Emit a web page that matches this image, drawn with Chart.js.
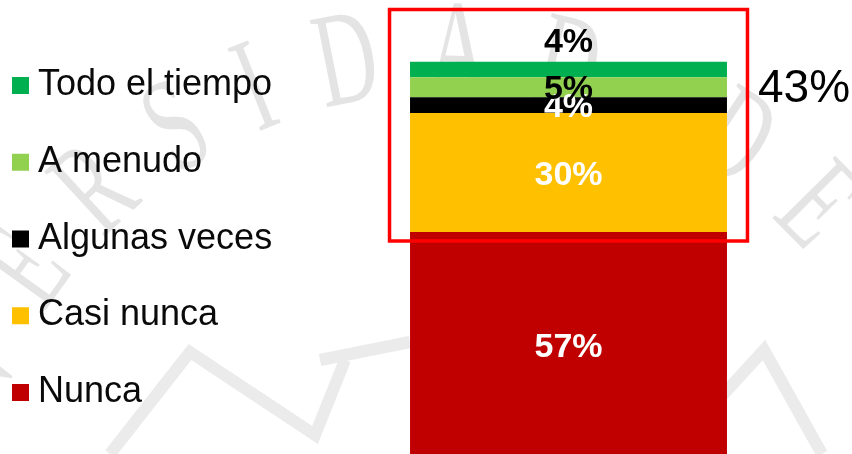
<!DOCTYPE html>
<html>
<head>
<meta charset="utf-8">
<script src="https://cdn.jsdelivr.net/npm/chart.js@4.4.1/dist/chart.umd.min.js"></script>
<style>
  html, body { margin: 0; padding: 0; width: 852px; height: 454px; overflow: hidden; background: #fff; }
  #caja { position: relative; width: 852px; height: 458px; }
</style>
</head>
<body>
<div id="caja"><canvas id="grafico"></canvas></div>
<script>
// respuestas, de abajo hacia arriba en la barra
const categorias = ['Nunca', 'Casi nunca', 'Algunas veces', 'A menudo', 'Todo el tiempo'];
const porcentajes = [57, 30, 4, 5, 4];
const colores = ['#C00000', '#FFC000', '#000000', '#92D050', '#00B050'];
const coloresTexto = ['#ffffff', '#ffffff', '#ffffff', '#000000', '#000000'];
// segmentos que entran en el recuadro rojo
const grupoDesde = 1;

const FUENTE = '"Liberation Sans", Arial, sans-serif';

// sello de fondo (marca de agua)
const sello = {
  id: 'sello',
  beforeDraw(chart) {
    const ctx = chart.ctx;
    ctx.save();
    ctx.fillStyle = '#ffffff';
    ctx.fillRect(0, 0, chart.width, chart.height);

    const cx = 448, cy = 572, r = 515, sx = 0.62, espacio = 50;
    const texto = 'UNIVERSIDAD DE';
    ctx.fillStyle = '#e4e4e4';
    ctx.font = '135px "Liberation Serif", serif';
    ctx.textAlign = 'center';
    ctx.textBaseline = 'middle';
    const letras = [...texto];
    const centros = [];
    let s = 0;
    letras.forEach(c => {
      const w = ctx.measureText(c).width * sx;
      centros.push(s + w / 2);
      s += w + espacio;
    });
    const desfase = (-144.2 * Math.PI / 180) * r - centros[4];
    letras.forEach((c, i) => {
      const ang = (centros[i] + desfase) / r;
      ctx.save();
      ctx.translate(cx + r * Math.cos(ang), cy + r * Math.sin(ang));
      ctx.rotate(ang + Math.PI / 2);
      ctx.scale(sx, 1);
      ctx.fillText(c, 0, 0);
      ctx.restore();
    });

    ctx.strokeStyle = '#ebebeb';
    ctx.lineWidth = 12;
    ctx.lineJoin = 'miter';
    ctx.beginPath();
    ctx.moveTo(110, 454); ctx.lineTo(190, 352); ctx.lineTo(315, 435); ctx.lineTo(345, 360);
    ctx.moveTo(320, 360); ctx.lineTo(410, 342);
    ctx.moveTo(700, 420); ctx.lineTo(764, 350); ctx.lineTo(822, 454);
    ctx.stroke();
    ctx.restore();
  }
};

// porcentajes sobre cada segmento
const etiquetas = {
  id: 'etiquetas',
  afterDatasetsDraw(chart) {
    const ctx = chart.ctx;
    ctx.save();
    ctx.font = 'bold 34px ' + FUENTE;
    ctx.textAlign = 'center';
    ctx.textBaseline = 'alphabetic';
    chart.data.datasets.forEach((ds, i) => {
      const el = chart.getDatasetMeta(i).data[0];
      const texto = ds.data[0] + '%';
      ctx.fillStyle = coloresTexto[i];
      if (i === chart.data.datasets.length - 1) {
        // el último va encima de la barra
        ctx.fillText(texto, el.x, el.y - 9.5);
      } else {
        const medio = (el.y + el.base) / 2;
        ctx.fillText(texto, el.x, medio + 34 * 0.358);
      }
    });
    ctx.restore();
  }
};

// recuadro rojo y suma del grupo
const recuadro = {
  id: 'recuadro',
  afterDraw(chart) {
    const ctx = chart.ctx;
    const n = chart.data.datasets.length;
    const arriba = chart.getDatasetMeta(n - 1).data[0];
    const abajo = chart.getDatasetMeta(grupoDesde).data[0];
    const izq = arriba.x - arriba.width / 2 - 20.5;
    const der = arriba.x + arriba.width / 2 + 20.5;
    const sup = arriba.y - 52;
    const inf = abajo.base + 9;
    ctx.save();
    ctx.strokeStyle = '#FF0000';
    ctx.lineWidth = 3.5;
    ctx.strokeRect(izq, sup, der - izq, inf - sup);

    const suma = porcentajes.slice(grupoDesde).reduce((a, b) => a + b, 0);
    ctx.fillStyle = '#000000';
    ctx.font = '46px ' + FUENTE;
    ctx.textAlign = 'left';
    ctx.textBaseline = 'alphabetic';
    ctx.fillText(suma + '%', der + 10.5, arriba.y + 40.5);
    ctx.restore();
  }
};

// leyenda a la izquierda, en orden inverso
const leyenda = {
  id: 'leyenda',
  afterDraw(chart) {
    const ctx = chart.ctx;
    const ds = chart.data.datasets.slice().reverse();
    ctx.save();
    ctx.font = '36px ' + FUENTE;
    ctx.textAlign = 'left';
    ctx.textBaseline = 'alphabetic';
    ds.forEach((d, i) => {
      const base = 95 + i * 76.75;
      ctx.fillStyle = d.backgroundColor;
      ctx.fillRect(12, base - 18, 17, 17);
      ctx.fillStyle = '#0a0a0a';
      ctx.fillText(d.label, 38, base);
    });
    ctx.restore();
  }
};

const datasets = categorias.map((cat, i) => ({
  label: cat,
  data: [porcentajes[i]],
  backgroundColor: colores[i],
  borderWidth: 0,
  barPercentage: 0.559,
  categoryPercentage: 1
}));

new Chart(document.getElementById('grafico'), {
  type: 'bar',
  data: { labels: [''], datasets: datasets },
  options: {
    responsive: true,
    maintainAspectRatio: false,
    animation: false,
    layout: { padding: { left: 285, right: 0, top: 61.5, bottom: 0 } },
    scales: {
      x: { stacked: true, display: false },
      y: { stacked: true, display: false, min: 0, max: 100 }
    },
    plugins: {
      legend: { display: false },
      tooltip: { enabled: false }
    }
  },
  plugins: [sello, etiquetas, recuadro, leyenda]
});
</script>
</body>
</html>
